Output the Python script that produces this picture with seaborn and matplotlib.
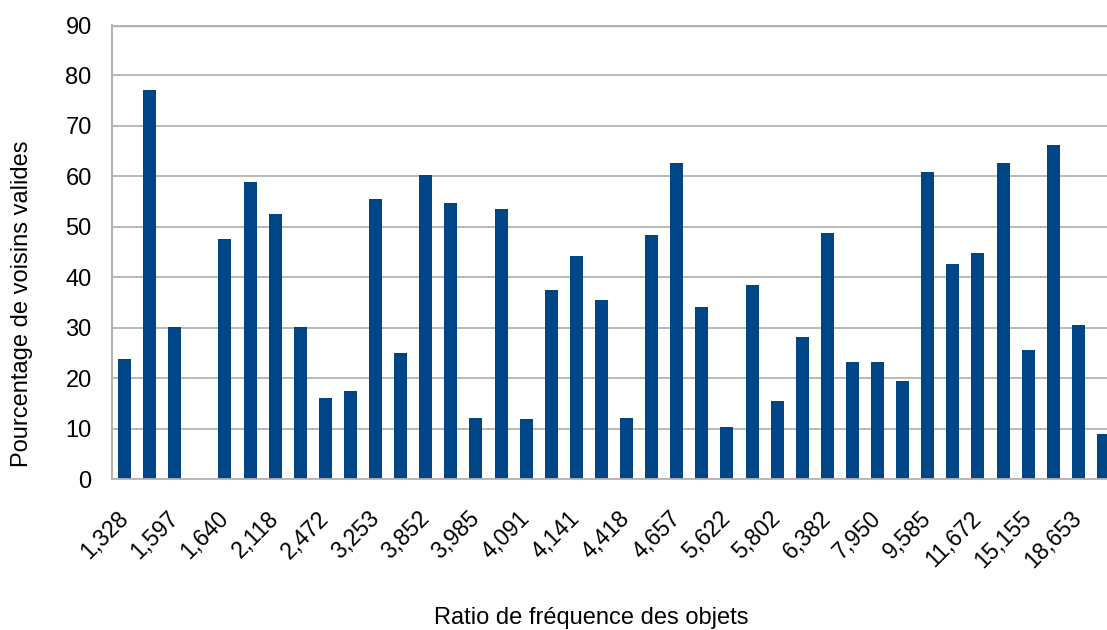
import numpy as np
import matplotlib
matplotlib.use("Agg")
import matplotlib.pyplot as plt
import matplotlib.transforms as mtransforms
import seaborn as sns

# =========================
# Data
# =========================
# 40 categories, only every other one carries a label on the axis
shown_labels = ["1,328", "1,597", "1,640", "2,118", "2,472", "3,253", "3,852",
                "3,985", "4,091", "4,141", "4,418", "4,657", "5,622", "5,802",
                "6,382", "7,950", "9,585", "11,672", "15,155", "18,653"]

pct_valid = [23.8, 77.2, 30.1, 0.0, 47.6, 58.9, 52.6, 30.1, 16.0, 17.4,
             55.5, 25.0, 60.2, 54.8, 12.1, 53.5, 11.8, 37.5, 44.3, 35.5,
             12.0, 48.3, 62.6, 34.0, 10.4, 38.5, 15.5, 28.2, 48.7, 23.2,
             23.1, 19.5, 60.9, 42.7, 44.8, 62.7, 25.5, 66.3, 30.6, 8.9]

category_idx = list(range(len(pct_valid)))

y_ticks = [0, 10, 20, 30, 40, 50, 60, 70, 80, 90]

# =========================
# Style
# =========================
sns.set_theme(style="white")
plt.rcParams["font.family"] = ["Liberation Sans", "DejaVu Sans"]

bar_color = "#004586"
grid_color = "#b3b3b3"

fig = plt.figure(figsize=(11.07, 6.30), dpi=100)
# plot area runs slightly past the right border, as in the reference
ax = fig.add_axes([112 / 1107, 151 / 630, 1004 / 1107, 454 / 630])

sns.barplot(x=category_idx, y=pct_valid, color=bar_color, width=0.52,
            linewidth=0, saturation=1, ax=ax)

ax.set_xlim(-0.5, len(pct_valid) - 0.5)
ax.set_ylim(0, 90)
ax.set_yticks(y_ticks)
ax.yaxis.grid(True, color=grid_color, linewidth=1.3)
ax.set_axisbelow(True)

# labels at every other category, tick marks on category boundaries
ax.set_xticks(category_idx[::2])
ax.set_xticklabels(shown_labels, rotation=45, ha="right", va="center",
                   rotation_mode="anchor", fontsize=16.5)
shift = mtransforms.ScaledTranslation(-5 / 100, 0, fig.dpi_scale_trans)
for lbl in ax.get_xticklabels():
    lbl.set_transform(lbl.get_transform() + shift)
ax.set_xticks(np.arange(-0.5, len(pct_valid), 1), minor=True)
ax.tick_params(axis="x", which="major", length=0, pad=26)
ax.tick_params(axis="x", which="minor", length=8.6, width=1, color=grid_color)
ax.tick_params(axis="y", length=8.6, width=1.3, color=grid_color, pad=6,
               labelsize=17)

for side in ["top", "right"]:
    ax.spines[side].set_visible(False)
ax.spines["left"].set_color(grid_color)
ax.spines["left"].set_linewidth(1.5)
ax.spines["bottom"].set_color(grid_color)
ax.spines["bottom"].set_linewidth(1.3)
ax.axhline(90, color=grid_color, linewidth=2.5, zorder=0)

ax.set_xlabel("")
ax.set_ylabel("")
fig.text(591 / 1107, 1 - 618 / 630, "Ratio de fréquence des objets",
         ha="center", va="center", fontsize=17, color="black")
fig.text(22 / 1107, 1 - 304 / 630, "Pourcentage de voisins valides",
         ha="center", va="center", rotation=90, fontsize=17, color="black")

for lbl in ax.get_xticklabels() + ax.get_yticklabels():
    lbl.set_color("black")

fig.savefig("out.png", dpi=100)
